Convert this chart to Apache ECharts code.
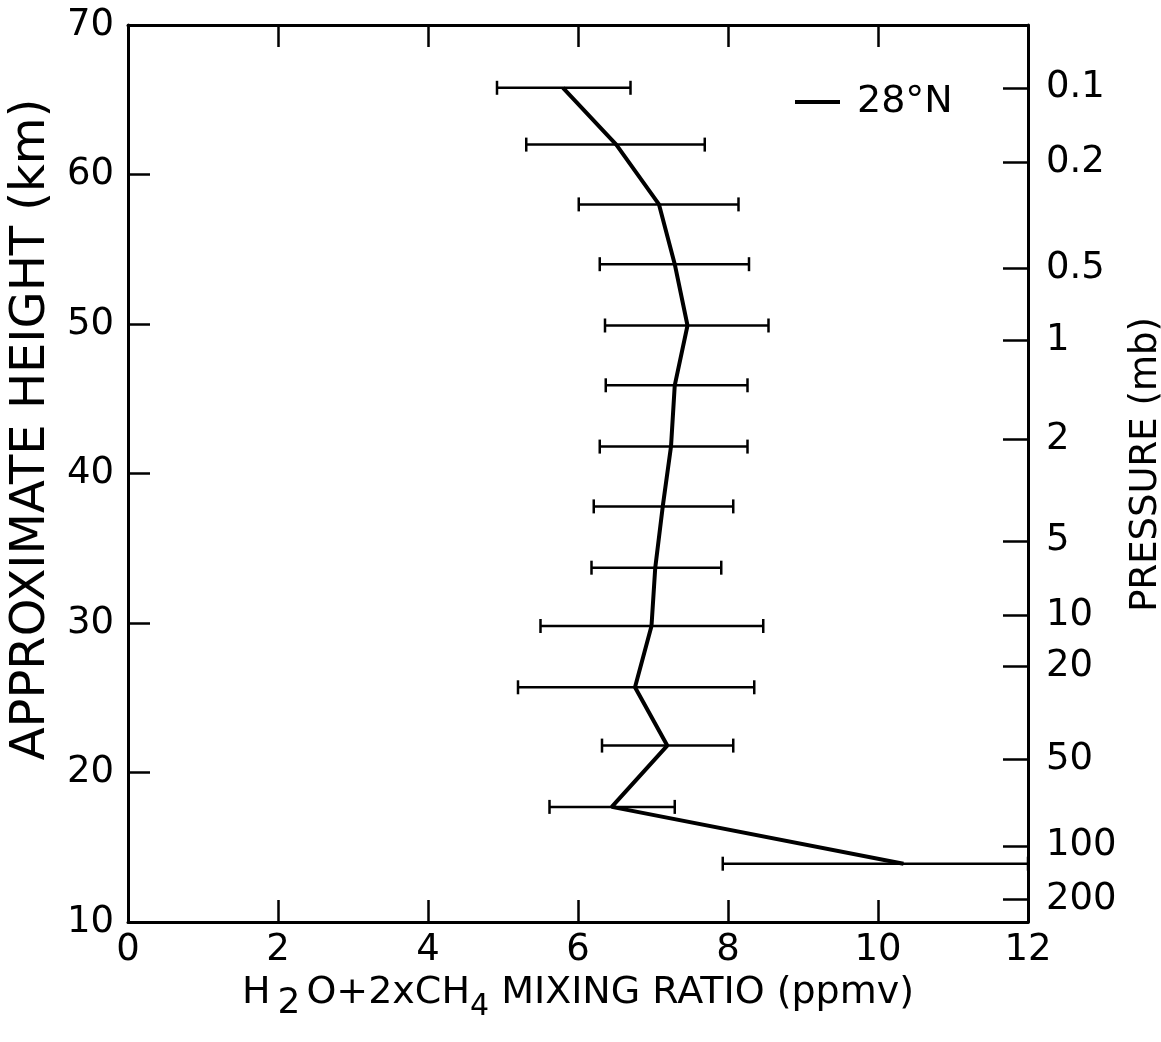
<!DOCTYPE html>
<html>
<head>
<meta charset="utf-8">
<script src="https://cdn.jsdelivr.net/npm/echarts@6/dist/echarts.min.js"></script>
<style>html,body{margin:0;padding:0;background:#fff}#c{width:1161px;height:1042px}</style>
</head>
<body>
<div id="c"></div>
<script>
// Approximate height (km) of each measurement level
const heights = [65.8, 62.0, 58.0, 54.0, 49.9, 45.9, 41.8, 37.8, 33.7, 29.8, 25.7, 21.8, 17.7, 13.9];
// H2O + 2xCH4 mixing ratio (ppmv)
const means = [5.80, 6.51, 7.08, 7.29, 7.46, 7.29, 7.24, 7.13, 7.03, 6.98, 6.76, 7.19, 6.45, 10.34];
const lows  = [4.92, 5.31, 6.01, 6.29, 6.36, 6.37, 6.29, 6.21, 6.18, 5.50, 5.20, 6.32, 5.62, 7.93];
const highs = [6.70, 7.69, 8.14, 8.28, 8.54, 8.26, 8.26, 8.07, 7.91, 8.47, 8.35, 8.07, 7.29, 12.0];
// Left height ticks (km)
const heightTicks = [20, 30, 40, 50, 60];
// Right-hand pressure scale (mb) and the heights where its ticks sit
const pressureLabels  = ['0.1', '0.2', '0.5', '1', '2', '5', '10', '20', '50', '100', '200'];
const pressureHeights = [65.8, 60.8, 53.7, 48.9, 42.3, 35.5, 30.5, 27.1, 20.9, 15.1, 11.5];
const seriesName = '28°N';

const FONT = 'DejaVu Sans';
const chart = echarts.init(document.getElementById('c'), null, { renderer: 'canvas' });
const lineData = means.map((m, i) => [m, heights[i]]);
const errData = heights.map((h, i) => [lows[i], highs[i], h]);

function axisLine() { return { show: true, onZero: false, lineStyle: { color: '#000', width: 3 } }; }
function tickStyle() { return { color: '#000', width: 2.5 }; }
const labelStyle = { fontFamily: FONT, fontSize: 37, color: '#000' };

const option = {
  backgroundColor: '#fff',
  animation: false,
  grid: { left: 128, top: 25, width: 900, height: 897, outerBoundsMode: 'none', containLabel: false },
  legend: {
    data: [seriesName],
    left: 790, top: 78,
    icon: 'rect', itemWidth: 45, itemHeight: 4,
    textStyle: { fontFamily: FONT, fontSize: 38, color: '#000', padding: [0, 0, 0, 12] }
  },
  xAxis: [
    {
      type: 'value', min: 0, max: 12, interval: 2, position: 'bottom',
      name: '{a|H}{s|2}{a|O+2xCH}{t|4}{a| MIXING RATIO (ppmv)}',
      nameLocation: 'middle', nameGap: 22,
      nameTextStyle: {
        rich: {
          a: { fontFamily: FONT, fontSize: 38, color: '#000', lineHeight: 40, verticalAlign: 'top' },
          s: { fontFamily: FONT, fontSize: 36, color: '#000', lineHeight: 48, verticalAlign: 'bottom', padding: [0, 6, 0, 7] },
          t: { fontFamily: FONT, fontSize: 30, color: '#000', lineHeight: 46, verticalAlign: 'bottom' }
        }
      },
      axisLine: axisLine(),
      axisTick: { show: true, inside: true, length: 22, lineStyle: tickStyle() },
      axisLabel: Object.assign({ margin: 10 }, labelStyle),
      splitLine: { show: false }
    },
    {
      type: 'value', min: 0, max: 12, interval: 2, position: 'top',
      axisLine: axisLine(),
      axisTick: { show: true, inside: true, length: 22, lineStyle: tickStyle() },
      axisLabel: { show: false },
      splitLine: { show: false }
    }
  ],
  yAxis: [
    {
      type: 'value', min: 10, max: 70, interval: 10, position: 'left',
      name: 'APPROXIMATE HEIGHT (km)', nameLocation: 'middle', nameGap: 66,
      nameTextStyle: { fontFamily: FONT, fontSize: 48, color: '#000', padding: [0, 0, 0, 88] },
      axisLine: axisLine(),
      axisTick: { show: true, inside: true, length: 22, lineStyle: tickStyle(), customValues: heightTicks },
      axisLabel: Object.assign({ margin: 14 }, labelStyle),
      splitLine: { show: false }
    },
    {
      type: 'value', min: 10, max: 70, position: 'right',
      name: 'PRESSURE (mb)', nameLocation: 'middle', nameGap: 86,
      nameTextStyle: { fontFamily: FONT, fontSize: 37, color: '#000', padding: [0, 0, 0, 18] },
      axisLine: axisLine(),
      axisTick: { show: true, inside: true, length: 25, lineStyle: tickStyle(), customValues: pressureHeights },
      axisLabel: Object.assign({
        margin: 18,
        customValues: pressureHeights,
        formatter: function (v) {
          let best = -1, d = 1e9;
          pressureHeights.forEach((h, i) => { if (Math.abs(h - v) < d) { d = Math.abs(h - v); best = i; } });
          return best >= 0 && d < 0.01 ? pressureLabels[best] : '';
        }
      }, labelStyle),
      splitLine: { show: false }
    }
  ],
  series: [
    {
      type: 'custom', name: 'error', xAxisIndex: 0, yAxisIndex: 0,
      data: errData,
      encode: { x: [0, 1], y: 2 },
      z: 2,
      renderItem: function (params, api) {
        const lo = api.coord([api.value(0), api.value(2)]);
        const hi = api.coord([api.value(1), api.value(2)]);
        const c = 7;
        const style = { stroke: '#000', lineWidth: 2.5, fill: null };
        return {
          type: 'group',
          children: [
            { type: 'line', shape: { x1: lo[0], y1: lo[1], x2: hi[0], y2: hi[1] }, style: style },
            { type: 'line', shape: { x1: lo[0], y1: lo[1] - c, x2: lo[0], y2: lo[1] + c }, style: style },
            { type: 'line', shape: { x1: hi[0], y1: hi[1] - c, x2: hi[0], y2: hi[1] + c }, style: style }
          ]
        };
      }
    },
    {
      type: 'line', name: seriesName, xAxisIndex: 0, yAxisIndex: 0,
      data: lineData,
      symbol: 'none', showSymbol: false,
      lineStyle: { color: '#000', width: 4 },
      itemStyle: { color: '#000' },
      z: 3
    }
  ]
};
chart.setOption(option);
</script>
</body>
</html>
